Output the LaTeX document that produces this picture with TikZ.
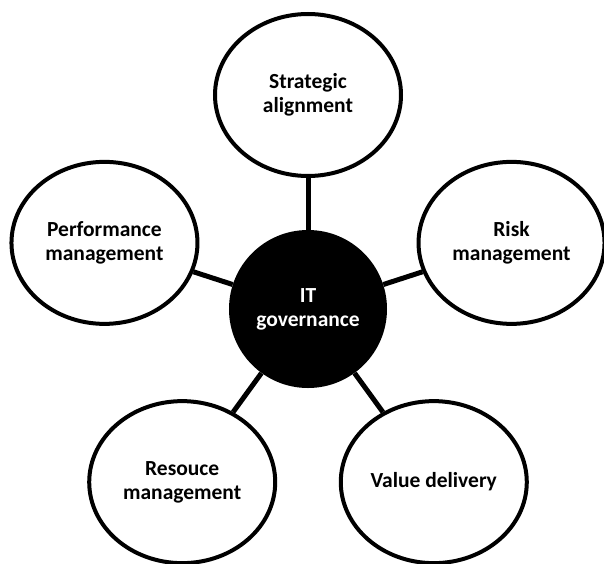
\documentclass[tikz,border=0pt]{standalone}
\usepackage{fontspec}
\setmainfont{Carlito}
\usepackage{tikz}
\usetikzlibrary{shapes.geometric}
\usetikzlibrary{positioning}

\tikzset{
  aspect/.style={ellipse, draw, line width=4pt, minimum width=186pt,
    minimum height=162pt, inner sep=0pt, align=center,
    font=\fontsize{21.5}{24}\selectfont\bfseries},
  hub/.style={circle, fill=black, minimum size=158pt, inner sep=0pt,
    align=center, text=white, font=\fontsize{21.5}{24}\selectfont\bfseries},
  link/.style={line width=5pt}
}

\begin{document}
\begin{tikzpicture}[x=1pt, y=1pt]

  \useasboundingbox (-308,-254) rectangle (296,309);

  % Define nodes
  \node[hub] (gov) at (0,0) {IT\\governance};
  \node[aspect] (strat) at (90:214pt) {Strategic\\alignment};
  \node[aspect] (risk) at (18:214pt) {Risk\\management};
  \node[aspect] (value) at (306:214pt) {Value delivery};
  \node[aspect] (resource) at (234:214pt) {Resouce\\management};
  \node[aspect] (perf) at (162:214pt) {Performance\\management};

  % Connect nodes
  \draw[link] (gov) -- (strat);
  \draw[link] (gov) -- (risk);
  \draw[link] (gov) -- (value);
  \draw[link] (gov) -- (resource);
  \draw[link] (gov) -- (perf);

\end{tikzpicture}
\end{document}
